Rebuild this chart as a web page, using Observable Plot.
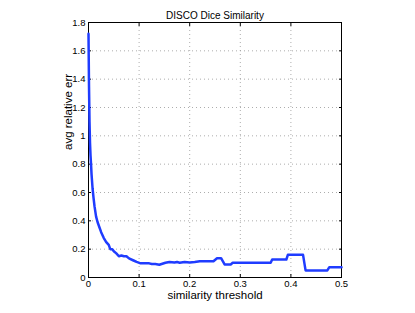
<!DOCTYPE html>
<html><head><meta charset="utf-8">
<script src="https://cdn.jsdelivr.net/npm/d3@7"></script>
<script src="https://cdn.jsdelivr.net/npm/@observablehq/plot@0.6"></script>
<style>body{margin:0;background:#fff}#c{width:415px;height:313px;overflow:hidden}</style>
</head><body><div id="c"></div>
<script>
const title = "DISCO Dice Similarity";
const xLabel = "similarity threshold";
const yLabel = "avg relative err";
const xTicks = [0, 0.1, 0.2, 0.3, 0.4, 0.5];
const yTicks = [0, 0.2, 0.4, 0.6, 0.8, 1, 1.2, 1.4, 1.6, 1.8];
const threshold = [0, 0.001, 0.002, 0.003, 0.004, 0.005, 0.006, 0.008, 0.010, 0.012, 0.015, 0.018, 0.021, 0.025, 0.03, 0.035, 0.04, 0.043, 0.047, 0.05, 0.055, 0.06, 0.065, 0.07, 0.075, 0.08, 0.089, 0.095, 0.103, 0.11, 0.12, 0.125, 0.132, 0.14, 0.152, 0.16, 0.17, 0.175, 0.18, 0.19, 0.2, 0.21, 0.22, 0.247, 0.254, 0.262, 0.269, 0.281, 0.285, 0.36, 0.363, 0.391, 0.394, 0.424, 0.429, 0.472, 0.476, 0.5];
const avgErr =    [1.72, 1.35, 1.1, 0.95, 0.86, 0.8, 0.73, 0.63, 0.56, 0.5, 0.43, 0.39, 0.36, 0.32, 0.28, 0.25, 0.23, 0.2, 0.2, 0.185, 0.17, 0.15, 0.155, 0.15, 0.15, 0.135, 0.12, 0.11, 0.1, 0.1, 0.1, 0.095, 0.095, 0.09, 0.104, 0.11, 0.106, 0.11, 0.104, 0.11, 0.106, 0.11, 0.115, 0.115, 0.136, 0.136, 0.092, 0.092, 0.104, 0.104, 0.127, 0.127, 0.16, 0.16, 0.05, 0.05, 0.073, 0.073];
const data = threshold.map((t, i) => ({t, e: avgErr[i]}));
const fmt = d => d3.format("~g")(d);
const none = () => "";
const chart = Plot.plot({
  width: 415, height: 313,
  marginLeft: 88, marginRight: 74, marginTop: 22, marginBottom: 36,
  style: {fontFamily: "'Liberation Sans', Arial, sans-serif", fontSize: "9px", background: "#fff", color: "#000"},
  x: {domain: [0, 0.5], ticks: xTicks, tickFormat: fmt},
  y: {domain: [0, 1.8], ticks: yTicks, tickFormat: fmt},
  marks: [
    Plot.gridX(xTicks, {stroke: "#999", strokeOpacity: 0.8, strokeDasharray: "1,3"}),
    Plot.gridY(yTicks, {stroke: "#999", strokeOpacity: 0.8, strokeDasharray: "1,3"}),
    Plot.axisX(xTicks, {tickSize: -3, tickPadding: 6, tickFormat: fmt, label: null, fontSize: 9.5}),
    Plot.axisX(xTicks, {anchor: "top", tickSize: -3, tickFormat: none, label: null}),
    Plot.axisY(yTicks, {tickSize: -3, tickPadding: 6, tickFormat: fmt, label: null, fontSize: 9.5}),
    Plot.axisY(yTicks, {anchor: "right", tickSize: -3, tickFormat: none, label: null}),
    Plot.frame({stroke: "#000", strokeWidth: 1}),
    Plot.line(data, {x: "t", y: "e", stroke: "#1f3cff", strokeWidth: 2.5, strokeLinejoin: "round"}),
    Plot.text([title], {frameAnchor: "top", dy: -11, fontSize: 10}),
    Plot.text([xLabel], {frameAnchor: "bottom", dy: 21, fontSize: 11.5}),
    Plot.text([yLabel], {frameAnchor: "left", dx: -20, rotate: -90, fontSize: 11.5})
  ]
});
document.getElementById("c").append(chart);
</script></body></html>
